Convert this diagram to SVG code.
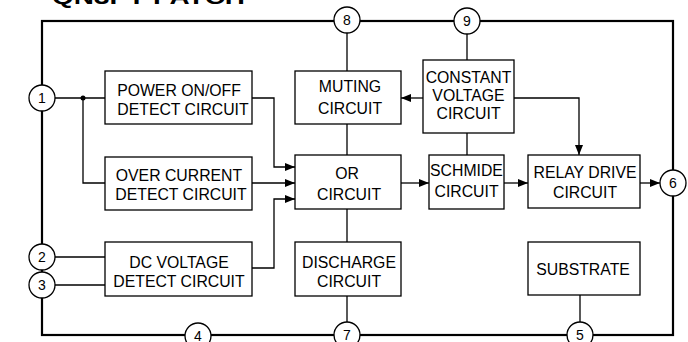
<svg xmlns="http://www.w3.org/2000/svg" width="688" height="342" viewBox="0 0 688 342">
<style>
  .box{fill:#fff;stroke:#000;stroke-width:1.3}
  .pin{fill:#fff;stroke:#000;stroke-width:1.3}
  .ln{fill:none;stroke:#000;stroke-width:1.3}
  .frame{fill:none;stroke:#000;stroke-width:2.2}
  text{font-family:"Liberation Sans",Arial,sans-serif;font-size:15.8px;fill:#000;text-anchor:middle}
  .pn{font-size:14px}
  .title{font-size:20px;font-weight:bold;text-anchor:start}
</style>
<defs>
  <marker id="ah" viewBox="0 0 10 8" refX="10" refY="4" markerWidth="10" markerHeight="8" markerUnits="userSpaceOnUse" orient="auto">
    <path d="M0,0 L10,4 L0,8 Z" fill="#000"/>
  </marker>
</defs>
<rect width="688" height="342" fill="#fff"/>
<text class="title" x="52" y="4" textLength="193" lengthAdjust="spacingAndGlyphs">QN3PT PATCH</text>
<rect class="frame" x="42" y="21" width="631" height="314"/>
<g id="connectors">
  <path class="ln" d="M55,98 H105"/>
  <circle cx="83" cy="98" r="2.5" fill="#000"/>
  <path class="ln" d="M83,98 V183 H105"/>
  <path class="ln" d="M252,98 H274 V167 H295" marker-end="url(#ah)"/>
  <path class="ln" d="M252,183 H295" marker-end="url(#ah)"/>
  <path class="ln" d="M252,268 H274 V199 H295" marker-end="url(#ah)"/>
  <path class="ln" d="M55,257 H105"/>
  <path class="ln" d="M55,285 H105"/>
  <path class="ln" d="M347,33 V71"/>
  <path class="ln" d="M347,124 V155"/>
  <path class="ln" d="M347,209 V242"/>
  <path class="ln" d="M347,296 V322"/>
  <path class="ln" d="M467,34 V60"/>
  <path class="ln" d="M467,133 V155"/>
  <path class="ln" d="M423,98 H401" marker-end="url(#ah)"/>
  <path class="ln" d="M514,98 H579 V155" marker-end="url(#ah)"/>
  <path class="ln" d="M401,183 H429" marker-end="url(#ah)"/>
  <path class="ln" d="M504,183 H528" marker-end="url(#ah)"/>
  <path class="ln" d="M640,183 H660" marker-end="url(#ah)"/>
  <path class="ln" d="M580,295 V322"/>
</g>
<g id="pin1"><circle class="pin" cx="42" cy="98" r="13"/><text class="pn" x="42" y="103">1</text></g>
<g id="pin2"><circle class="pin" cx="42" cy="257" r="13"/><text class="pn" x="42" y="262">2</text></g>
<g id="pin3"><circle class="pin" cx="42" cy="285" r="13"/><text class="pn" x="42" y="290">3</text></g>
<g id="pin4"><circle class="pin" cx="198" cy="336" r="13"/><text class="pn" x="198" y="341">4</text></g>
<g id="pin5"><circle class="pin" cx="580" cy="335" r="13"/><text class="pn" x="580" y="340">5</text></g>
<g id="pin6"><circle class="pin" cx="673" cy="183" r="13"/><text class="pn" x="673" y="188">6</text></g>
<g id="pin7"><circle class="pin" cx="347" cy="335" r="13"/><text class="pn" x="347" y="340">7</text></g>
<g id="pin8"><circle class="pin" cx="347" cy="20" r="13"/><text class="pn" x="347" y="25">8</text></g>
<g id="pin9"><circle class="pin" cx="467" cy="21" r="13"/><text class="pn" x="467" y="26">9</text></g>
<g id="power"><rect class="box" x="105" y="71" width="147" height="53"/><text x="179" y="96">POWER ON/OFF</text><text x="183" y="115">DETECT CIRCUIT</text></g>
<g id="overcurrent"><rect class="box" x="105" y="157" width="147" height="53"/><text x="179" y="181">OVER CURRENT</text><text x="181" y="200">DETECT CIRCUIT</text></g>
<g id="dcvoltage"><rect class="box" x="105" y="242" width="147" height="54"/><text x="179" y="268">DC VOLTAGE</text><text x="179" y="287">DETECT CIRCUIT</text></g>
<g id="muting"><rect class="box" x="295" y="71" width="106" height="53"/><text x="350" y="92">MUTING</text><text x="350" y="114">CIRCUIT</text></g>
<g id="constant"><rect class="box" x="423" y="60" width="91" height="73"/><text x="468.5" y="83">CONSTANT</text><text x="468.5" y="101">VOLTAGE</text><text x="468.5" y="119">CIRCUIT</text></g>
<g id="or"><rect class="box" x="295" y="155" width="106" height="54"/><text x="347" y="179">OR</text><text x="349" y="200">CIRCUIT</text></g>
<g id="schmide"><rect class="box" x="429" y="155" width="75" height="54"/><text x="466.5" y="176">SCHMIDE</text><text x="466.5" y="197">CIRCUIT</text></g>
<g id="discharge"><rect class="box" x="295" y="242" width="106" height="54"/><text x="349" y="268">DISCHARGE</text><text x="349" y="287">CIRCUIT</text></g>
<g id="relay"><rect class="box" x="528" y="155" width="112" height="53"/><text x="585" y="178">RELAY DRIVE</text><text x="585" y="198">CIRCUIT</text></g>
<g id="substrate"><rect class="box" x="528" y="242" width="112" height="53"/><text x="583" y="275">SUBSTRATE</text></g>
</svg>
